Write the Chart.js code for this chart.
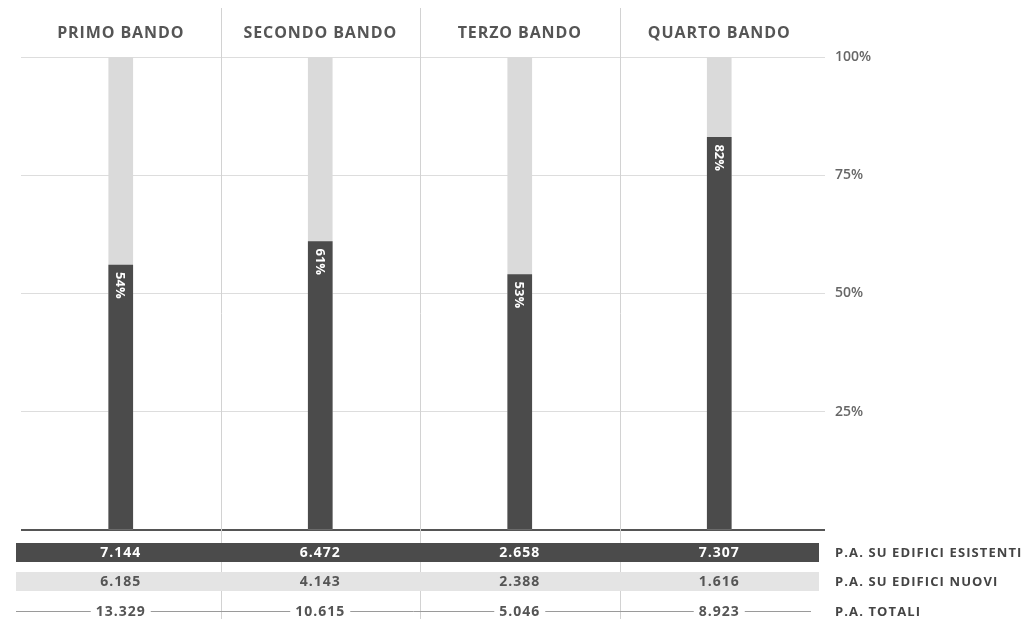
<!DOCTYPE html>
<html>
<head>
<meta charset="utf-8">
<script src="https://cdn.jsdelivr.net/npm/chart.js@4"></script>
<style>
  html, body { margin: 0; padding: 0; background: #fff; }
  #wrap { width: 1036px; height: 619px; position: relative; }
</style>
</head>
<body>
<div id="wrap"><canvas id="chartBandi"></canvas></div>
<script>
(function () {
    'use strict';

    const DARK   = '#4b4b4b';
    const LIGHT  = '#dadada';
    const BAND   = '#e4e4e4';
    const TEXT   = '#555555';
    const GRID   = '#dddddd';
    const FONT   = '"Open Sans", "Liberation Sans", sans-serif';

    // data
    const bandi      = ['PRIMO BANDO', 'SECONDO BANDO', 'TERZO BANDO', 'QUARTO BANDO'];
    const quotaEsist = [56, 61, 54, 83];            // bar height, % of total
    const quotaLabel = ['54%', '61%', '53%', '82%'];
    const totale100  = [100, 100, 100, 100];
    const esistenti  = ['7.144', '6.472', '2.658', '7.307'];
    const nuovi      = ['6.185', '4.143', '2.388', '1.616'];
    const totali     = ['13.329', '10.615', '5.046', '8.923'];
    const righe      = ['P.A. SU EDIFICI ESISTENTI', 'P.A. SU EDIFICI NUOVI', 'P.A. TOTALI'];
    const yTicks     = [25, 50, 75, 100];

    const tablePlugin = {
        id: 'tablePlugin',
        beforeDatasetsDraw(chart) {
            const { ctx, chartArea, scales } = chart;
            const x = scales.x;
            const n = bandi.length;
            const half = (x.getPixelForValue(1) - x.getPixelForValue(0)) / 2;
            const left = chartArea.left - 5;
            const right = chartArea.right;

            ctx.save();
            // column separators
            ctx.strokeStyle = '#d2d2d2';
            ctx.lineWidth = 1;
            for (let i = 0; i < n - 1; i++) {
                const px = Math.round(x.getPixelForValue(i) + half) + 0.5;
                ctx.beginPath();
                ctx.moveTo(px, 8);
                ctx.lineTo(px, 619);
                ctx.stroke();
            }
            // table bands
            ctx.fillStyle = DARK;
            ctx.fillRect(left, 543, right - left, 19);
            ctx.fillStyle = BAND;
            ctx.fillRect(left, 572, right - left, 19);
            ctx.strokeStyle = '#9a9a9a';
            ctx.beginPath();
            ctx.moveTo(left, 611.5);
            ctx.lineTo(right - 8, 611.5);
            ctx.stroke();
            ctx.restore();
        },
        afterDatasetsDraw(chart) {
            const { ctx, chartArea, scales } = chart;
            const x = scales.x;
            const y = scales.y;
            ctx.save();
            ctx.textAlign = 'center';
            ctx.textBaseline = 'middle';

            bandi.forEach((b, i) => {
                const cx = x.getPixelForValue(i);
                // headers
                ctx.font = 'bold 16px ' + FONT;
                ctx.letterSpacing = '0.9px';
                ctx.fillStyle = TEXT;
                ctx.fillText(b, cx, 33);

                // rotated share label
                ctx.save();
                ctx.translate(cx, y.getPixelForValue(quotaEsist[i]) + 7);
                ctx.rotate(Math.PI / 2);
                ctx.font = 'bold 13px ' + FONT;
                ctx.letterSpacing = '0px';
                ctx.fillStyle = '#ffffff';
                ctx.textAlign = 'left';
                ctx.fillText(quotaLabel[i], 0, 1);
                ctx.restore();

                // table values
                ctx.font = 'bold 14px ' + FONT;
                ctx.letterSpacing = '1px';
                ctx.fillStyle = '#ffffff';
                ctx.fillText(esistenti[i], cx, 553);
                ctx.fillStyle = TEXT;
                ctx.fillText(nuovi[i], cx, 582);
                const w = ctx.measureText(totali[i]).width;
                ctx.fillStyle = '#ffffff';
                ctx.fillRect(cx - w / 2 - 5, 604, w + 10, 14);
                ctx.fillStyle = TEXT;
                ctx.fillText(totali[i], cx, 612);
            });

            // row labels
            ctx.textAlign = 'left';
            ctx.font = 'bold 13px ' + FONT;
            ctx.letterSpacing = '1.1px';
            ctx.fillStyle = '#444444';
            [553, 582, 612].forEach((ty, k) => ctx.fillText(righe[k], chartArea.right + 16, ty));
            ctx.restore();
        }
    };

    new Chart(document.getElementById('chartBandi'), {
        type: 'bar',
        data: {
            labels: bandi,
            datasets: [
                {
                    label: 'Esistenti',
                    data: quotaEsist,
                    backgroundColor: DARK,
                    barThickness: 24,
                    order: 1
                },
                {
                    label: 'Totale',
                    data: totale100,
                    backgroundColor: LIGHT,
                    barThickness: 24,
                    order: 2
                }
            ]
        },
        options: {
            responsive: true,
            maintainAspectRatio: false,
            animation: false,
            events: [],
            layout: { padding: { top: 57, bottom: 89, left: 21, right: 0 } },
            datasets: { bar: { grouped: false } },
            plugins: {
                legend: { display: false },
                tooltip: { enabled: false }
            },
            scales: {
                x: {
                    display: false,
                    grid: { display: false }
                },
                y: {
                    position: 'right',
                    min: 0,
                    max: 100,
                    afterFit(scale) { scale.width = 217; },
                    afterBuildTicks(scale) {
                        scale.ticks = [0].concat(yTicks).map(v => ({ value: v }));
                    },
                    border: { display: false },
                    grid: {
                        color: ctx => ctx.tick.value === 0 ? '#555555' : GRID,
                        lineWidth: ctx => ctx.tick.value === 0 ? 2 : 1,
                        tickLength: 6,
                        drawTicks: true
                    },
                    ticks: {
                        padding: 10,
                        color: '#666666',
                        font: { family: FONT, size: 14, weight: '600' },
                        callback: v => v === 0 ? '' : v + '%'
                    }
                }
            }
        },
        plugins: [tablePlugin]
    });
})();
</script>
</body>
</html>
